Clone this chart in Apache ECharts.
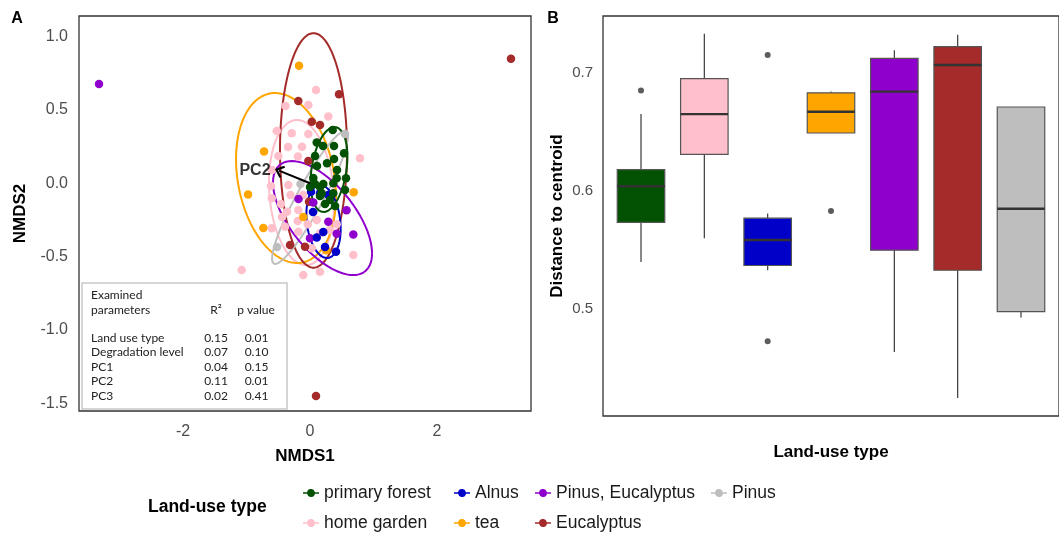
<!DOCTYPE html>
<html><head><meta charset="utf-8">
<script src="https://cdn.jsdelivr.net/npm/echarts@6/dist/echarts.min.js"></script>
<style>html,body{margin:0;padding:0;background:#fff}#c{width:1059px;height:534px}</style>
</head><body><div id="c"></div>
<script>
// ---------- DATA ----------
const groups = ['primary forest', 'Alnus', 'Pinus, Eucalyptus', 'Pinus', 'home garden', 'tea', 'Eucalyptus'];
const groupColors = ['#035203', '#0000C8', '#9000CC', '#BEBEBE', '#FFC0CB', '#FFA500', '#A52A2A'];

// NMDS scores per land-use type [NMDS1, NMDS2]
const ptsPrimaryForest = [[0.357,0.364],[0.106,0.278],[0.205,0.254],[0.378,0.254],[0.535,0.205],[0.079,0.186],[0.378,0.166],[0.268,0.136],[0.110,0.118],[0.425,0.091],[0.052,0.036],[0.420,0.034],[0.567,0.034],[0.209,-0.005],[0.367,0.000],[0.079,-0.005],[0.157,-0.025],[0.000,-0.025],[0.551,-0.046],[0.367,-0.068],[0.184,-0.068],[0.157,-0.087],[0.315,-0.114],[0.236,-0.141],[0.394,-0.155]];
const ptsAlnus = [[0.016,-0.057],[0.157,-0.068],[0.288,-0.080],[0.047,-0.196],[0.106,-0.370],[0.209,-0.332],[0.236,-0.435],[0.409,-0.467]];
const ptsPinusEucalyptus = [[-3.323,0.677],[-0.181,-0.107],[0.052,-0.131],[0.575,-0.184],[0.288,-0.262],[0.420,-0.344],[0.682,-0.349],[0.000,-0.375]];
const ptsPinus = [[0.551,0.336],[-0.150,-0.005],[-0.520,-0.435]];
const ptsHomeGarden = [[0.094,0.636],[-0.027,0.534],[-0.386,0.527],[0.288,0.456],[-0.524,0.357],[-0.288,0.341],[-0.027,0.336],[-0.346,0.248],[-0.126,0.250],[-0.499,0.186],[-0.189,0.183],[0.787,0.171],[-0.598,0.091],[-0.614,-0.018],[-0.342,-0.012],[-0.307,-0.080],[-0.603,-0.102],[-0.457,-0.141],[-0.362,-0.194],[-0.184,-0.182],[-0.441,-0.230],[-0.194,-0.257],[-0.036,-0.280],[0.315,-0.318],[0.420,-0.280],[-0.184,-0.330],[-0.394,-0.296],[-0.603,-0.307],[0.027,-0.443],[0.682,-0.489],[-0.106,-0.626],[0.157,-0.603],[-1.076,-0.591],[0.106,-0.250],[0.157,-0.341],[-0.110,-0.080]];
const ptsTea = [[-0.173,0.802],[-0.724,0.217],[-0.976,-0.076],[-0.735,-0.305],[-0.106,-0.230],[0.257,-0.457],[0.688,-0.061]];
const ptsEucalyptus = [[3.165,0.850],[0.094,-1.451],[-0.184,0.561],[0.457,0.607],[0.027,0.420],[0.157,0.398],[-0.027,0.152],[-0.016,-0.126],[-0.315,-0.421],[-0.079,-0.432]];
const groupPoints = [ptsPrimaryForest, ptsAlnus, ptsPinusEucalyptus, ptsPinus, ptsHomeGarden, ptsTea, ptsEucalyptus];

// 95% ellipse parameters per group (centre, half-extent in x and y, correlation)
const ellCX  = [0.299, 0.213, 0.197, 0.000, -0.134, -0.378, 0.055];
const ellCY  = [0.094, -0.261, -0.237, -0.097, -0.063, 0.036, 0.224];
const ellSX  = [0.290, 0.270, 0.780, 0.598, 0.512, 0.787, 0.528];
const ellSY  = [0.290, 0.249, 0.389, 0.454, 0.495, 0.580, 0.800];
const ellRho = [0.30, -0.20, -0.62, 0.92, -0.14, -0.22, 0.00];

// envfit arrow (PC2)
const arrowStart = [0, 0];
const arrowEnd = [-0.488, 0.086];
const arrowLabel = 'PC2';

// axis ticks
const nmds1Ticks = [-2, 0, 2];
const nmds2Ticks = [-1.5, -1, -0.5, 0, 0.5, 1];
const distTicks = [0.5, 0.6, 0.7];

// Panel B: betadisper distances to centroid
const boxCategories = ['primary forest', 'home garden', 'Alnus', 'tea', 'Pinus, Eucalyptus', 'Eucalyptus', 'Pinus'];
const boxLow    = [0.540, 0.560, 0.533, 0.649, 0.464, 0.425, 0.493];
const boxQ1     = [0.5735, 0.631, 0.537, 0.649, 0.550, 0.533, 0.498];
const boxMedian = [0.604, 0.665, 0.5586, 0.667, 0.684, 0.7065, 0.585];
const boxQ3     = [0.618, 0.695, 0.577, 0.683, 0.712, 0.722, 0.671];
const boxHigh   = [0.665, 0.733, 0.581, 0.684, 0.719, 0.732, 0.671];
const outlierCat = [0, 2, 2, 3];
const outlierVal = [0.685, 0.715, 0.473, 0.583];

// inset table
const tableParams = ['Land use type', 'Degradation level', 'PC1', 'PC2', 'PC3'];
const tableR2 = ['0.15', '0.07', '0.04', '0.11', '0.02'];
const tableP = ['0.01', '0.10', '0.15', '0.01', '0.41'];

// ---------- CHART ----------
const FONT = 'Liberation Sans';
const colorOf = name => groupColors[groups.indexOf(name)];

function ellipsePoints(i) {
  const pts = [];
  const k = Math.sqrt(1 - ellRho[i] * ellRho[i]);
  for (let j = 0; j <= 160; j++) {
    const t = 2 * Math.PI * j / 160;
    pts.push([ellCX[i] + ellSX[i] * Math.cos(t), ellCY[i] + ellSY[i] * (ellRho[i] * Math.cos(t) + k * Math.sin(t))]);
  }
  return pts;
}

const drawOrder = [4, 5, 6, 3, 2, 1, 0];
const series = [];
drawOrder.forEach((i, n) => {
  series.push({
    type: 'scatter', name: groups[i], xAxisIndex: 0, yAxisIndex: 0,
    data: groupPoints[i], symbolSize: 8.5, z: 4, zlevel: 0,
    itemStyle: { color: groupColors[i], opacity: 1 }
  });
});
drawOrder.forEach(i => {
  series.push({
    type: 'line', name: groups[i], xAxisIndex: 0, yAxisIndex: 0,
    data: ellipsePoints(i), showSymbol: false, symbol: 'none', smooth: false, z: 3,
    lineStyle: { color: groupColors[i], width: 2 }, itemStyle: { color: groupColors[i] }
  });
});
series.push({
  type: 'line', name: 'arrow', xAxisIndex: 0, yAxisIndex: 0, data: [], z: 5,
  markLine: {
    silent: true, animation: false,
    symbol: ['none', 'path://M0,10 L10,0 L20,10 L17.6,12 L10,4.6 L2.4,12 Z'],
    symbolSize: [13, 9],
    lineStyle: { color: '#000', width: 2, type: 'solid' },
    label: { show: false },
    data: [[{ coord: arrowStart }, { coord: arrowEnd }]]
  }
});
series.push({
  type: 'scatter', name: 'arrowLabel', xAxisIndex: 0, yAxisIndex: 0, z: 6,
  data: [arrowEnd], symbolSize: 1, itemStyle: { color: 'rgba(0,0,0,0)' },
  label: { show: true, formatter: arrowLabel, position: 'left', distance: 8,
           color: '#000', fontWeight: 'bold', fontSize: 16, fontFamily: FONT }
});

// panel B boxes
series.push({
  type: 'custom', name: 'box', xAxisIndex: 1, yAxisIndex: 1, z: 2,
  data: boxCategories.map((c, i) => [i, boxLow[i], boxQ1[i], boxMedian[i], boxQ3[i], boxHigh[i]]),
  encode: { x: 0, y: [1, 2, 3, 4, 5] },
  renderItem: function (params, api) {
    const i = api.value(0);
    const w = api.size([0.75, 0])[0];
    const pHi = api.coord([i, api.value(5)]);
    const pQ3 = api.coord([i, api.value(4)]);
    const pMed = api.coord([i, api.value(3)]);
    const pQ1 = api.coord([i, api.value(2)]);
    const pLo = api.coord([i, api.value(1)]);
    const stroke = '#3a3a3a';
    return { type: 'group', children: [
      { type: 'line', shape: { x1: pHi[0], y1: pHi[1], x2: pQ3[0], y2: pQ3[1] }, style: { stroke: stroke, lineWidth: 1.2 } },
      { type: 'line', shape: { x1: pQ1[0], y1: pQ1[1], x2: pLo[0], y2: pLo[1] }, style: { stroke: stroke, lineWidth: 1.2 } },
      { type: 'rect', shape: { x: pQ3[0] - w / 2, y: pQ3[1], width: w, height: pQ1[1] - pQ3[1] },
        style: { fill: colorOf(boxCategories[params.dataIndex]), stroke: '#555', lineWidth: 1.2 } },
      { type: 'line', shape: { x1: pMed[0] - w / 2, y1: pMed[1], x2: pMed[0] + w / 2, y2: pMed[1] }, style: { stroke: '#333', lineWidth: 2.4 } }
    ] };
  }
});
series.push({
  type: 'scatter', name: 'outliers', xAxisIndex: 1, yAxisIndex: 1, z: 4,
  data: outlierCat.map((c, i) => [c, outlierVal[i]]), symbolSize: 6,
  itemStyle: { color: '#333' }
});

const legendIcon = 'path://M0,4.2 H4.08 A4,4 0 0 1 11.92,4.2 H16 V5.8 H11.92 A4,4 0 0 1 4.08,5.8 H0 Z';
const legendDotX = [311, 462, 543, 719, 311, 462, 543];
const legendRowY = [493, 493, 493, 493, 523, 523, 523];
const legends = groups.map((g, i) => ({
  data: [g], left: legendDotX[i] - 8, top: legendRowY[i] - 9, padding: 0,
  icon: legendIcon, itemWidth: 16, itemHeight: 8, itemGap: 0,
  textStyle: { fontSize: 17.5, color: '#1a1a1a', fontFamily: FONT }
}));

const tableTexts = [];
const txt = (t, x, y, align) => ({ type: 'text', x: x, y: y, z: 101,
  style: { text: t, font: '12px Lato', fill: '#222', align: align, verticalAlign: 'middle', textAlign: align, textVerticalAlign: 'middle' } });
tableTexts.push(txt('Examined', 91, 295, 'left'));
tableTexts.push(txt('parameters', 91, 310, 'left'));
tableTexts.push(txt('R\u00B2', 216, 310, 'center'));
tableTexts.push(txt('p value', 256, 310, 'center'));
tableParams.forEach((p, i) => {
  const y = 338 + i * 14.5;
  tableTexts.push(txt(p, 91, y, 'left'));
  tableTexts.push(txt(tableR2[i], 216, y, 'center'));
  tableTexts.push(txt(tableP[i], 256.5, y, 'center'));
});

const bigText = (t, x, y, align, size) => ({ type: 'text', x: x, y: y, z: 101,
  style: { text: t, font: 'bold ' + size + 'px ' + FONT, fill: '#000', align: align, verticalAlign: 'middle', textAlign: align, textVerticalAlign: 'middle' } });

const titleStyle = { fontWeight: 'bold', fontSize: 17, color: '#000', fontFamily: FONT };
const option = {
  animation: false,
  textStyle: { fontFamily: FONT },
  grid: [
    { left: 79, top: 16, width: 452, height: 395, show: true, borderColor: '#333', borderWidth: 1.3, backgroundColor: '#fff' },
    { left: 603, top: 16, width: 466, height: 400, show: true, borderColor: '#333', borderWidth: 1.3, backgroundColor: '#fff' }
  ],
  xAxis: [
    { type: 'value', gridIndex: 0, min: -3.638, max: 3.480,
      axisLine: { show: false }, axisTick: { show: false }, splitLine: { show: false },
      axisLabel: { customValues: nmds1Ticks, formatter: v => String(v), fontSize: 16, color: '#4d4d4d', margin: 13 },
      name: 'NMDS1', nameLocation: 'middle', nameGap: 37, nameTextStyle: titleStyle },
    { type: 'value', gridIndex: 1, min: -0.6, max: 6.6,
      axisLine: { show: false }, axisTick: { show: false }, splitLine: { show: false },
      axisLabel: { show: false },
      name: 'Land-use type', nameLocation: 'middle', nameGap: 28, nameTextStyle: titleStyle }
  ],
  yAxis: [
    { type: 'value', gridIndex: 0, min: -1.553, max: 1.141,
      axisLine: { show: false }, axisTick: { show: false }, splitLine: { show: false },
      axisLabel: { customValues: nmds2Ticks, formatter: v => v.toFixed(1), fontSize: 16, color: '#4d4d4d', margin: 11 },
      name: 'NMDS2', nameLocation: 'middle', nameGap: 50, nameTextStyle: titleStyle },
    { type: 'value', gridIndex: 1, min: 0.4098, max: 0.7479,
      axisLine: { show: false }, axisTick: { show: false }, splitLine: { show: false },
      axisLabel: { customValues: distTicks, formatter: v => v.toFixed(1), fontSize: 15, color: '#4d4d4d', margin: 10 },
      name: 'Distance to centroid', nameLocation: 'middle', nameGap: 37, nameTextStyle: titleStyle }
  ],
  legend: legends,
  graphic: [
    bigText('A', 17, 19, 'center', 16),
    bigText('B', 553, 19, 'center', 16),
    bigText('Land-use type', 148, 507, 'left', 17.5),
    { type: 'rect', z: 100, shape: { x: 82, y: 283, width: 205, height: 126 },
      style: { fill: '#fff', stroke: '#c8c8c8', lineWidth: 1.5 } }
  ].concat(tableTexts),
  series: series
};

const chart = echarts.init(document.getElementById('c'), null, { renderer: 'canvas' });
chart.setOption(option);
</script>
</body></html>
